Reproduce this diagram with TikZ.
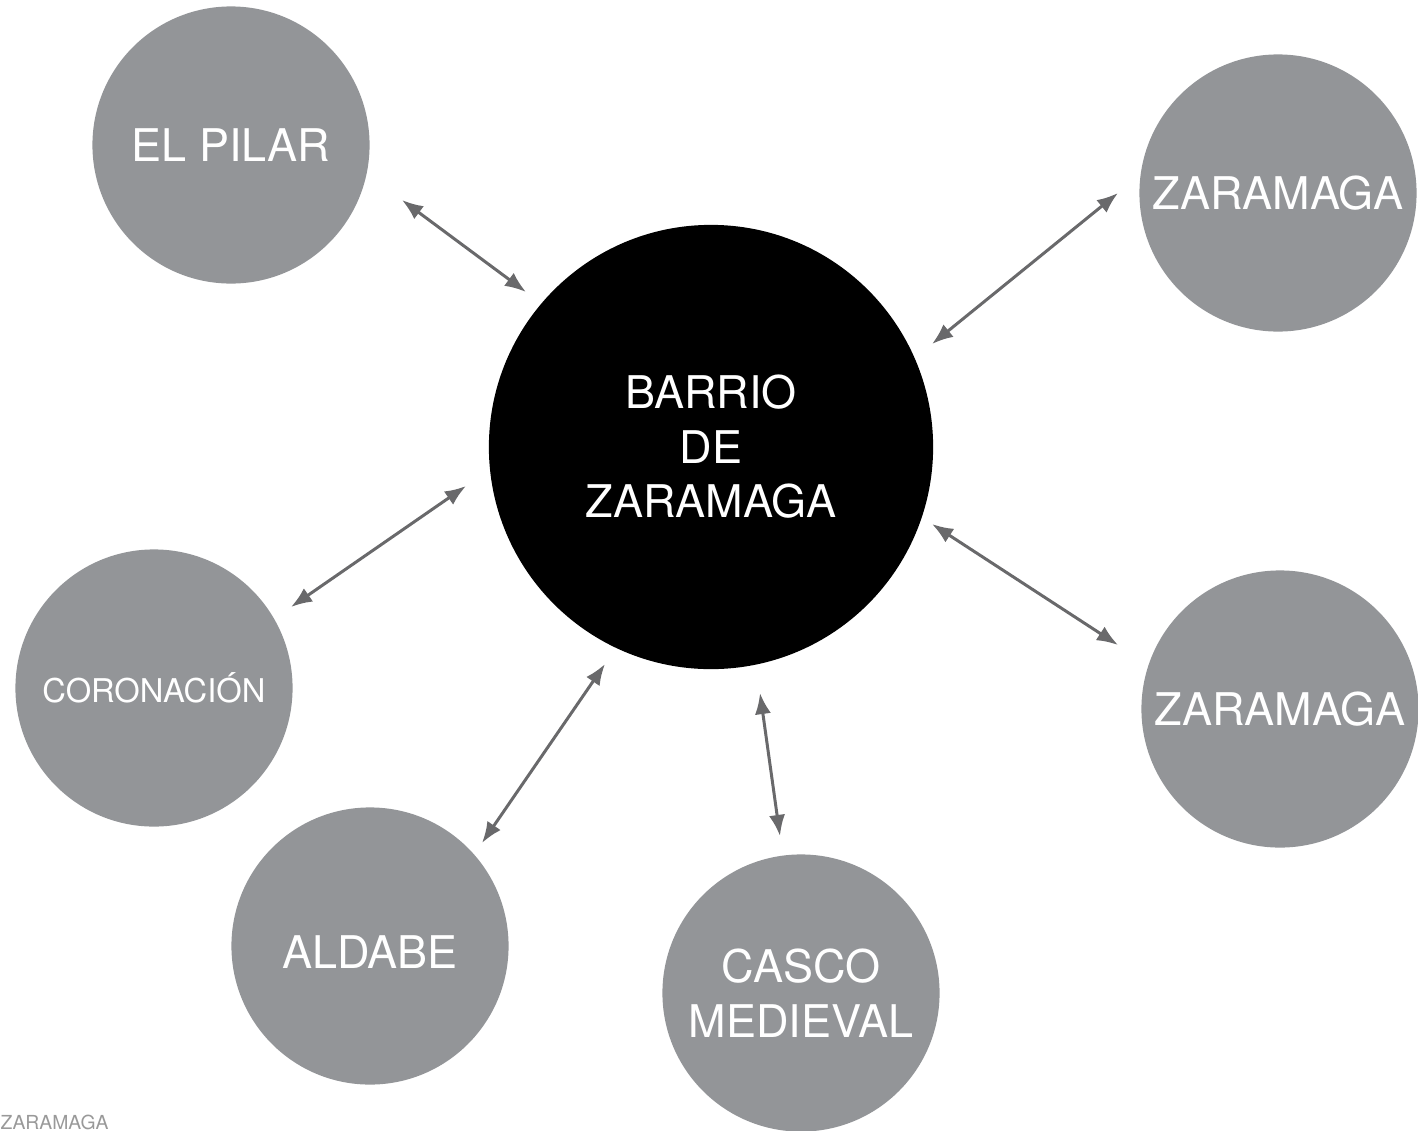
\documentclass[tikz,border=0pt]{standalone}
\usepackage{fontspec}
\setmainfont{TeX Gyre Heros}
\usepackage{xcolor}
\usetikzlibrary{arrows.meta}

\definecolor{barrio}{RGB}{147,149,152}
\definecolor{flecha}{RGB}{105,105,107}

\begin{document}
\begin{tikzpicture}[x=0.01cm, y=-0.01cm,
        zona/.style={circle, fill=barrio, minimum size=2.77cm, inner sep=0pt,
            text=white, align=center, font=\fontsize{12.8}{15.5}\selectfont},
        centro/.style={zona, fill=black, minimum size=4.44cm},
        enlace/.style={draw=flecha, line width=0.85pt,
            {Latex[length=6pt,width=4.6pt]}-{Latex[length=6pt,width=4.6pt]}}]
        \useasboundingbox (0,0) rectangle (1418,1130);

        \node[centro] (zar)   at (711,447)  {BARRIO\\DE\\ZARAMAGA};
        \node[zona]   (pilar) at (231,145)  {EL PILAR};
        \node[zona]   (zar1)  at (1278,193) {ZARAMAGA};
        \node[zona, font=\fontsize{9.3}{11}\selectfont] (coro) at (154,688) {CORONACIÓN};
        \node[zona]   (zar2)  at (1280,709) {ZARAMAGA};
        \node[zona]   (alda)  at (370,946)  {\raisebox{-6.5pt}[0pt][0pt]{ALDABE}};
        \node[zona]   (casco) at (801,993)  {CASCO\\MEDIEVAL};

        % extremos de las flechas
        \coordinate (pilar-a) at (402,200);  \coordinate (pilar-b) at (526,292);
        \coordinate (zar1-a)  at (1118,193); \coordinate (zar1-b)  at (932,344);
        \coordinate (coro-a)  at (291,607);  \coordinate (coro-b)  at (466,486);
        \coordinate (zar2-a)  at (1118,645); \coordinate (zar2-b)  at (932,524);
        \coordinate (alda-a)  at (482,843);  \coordinate (alda-b)  at (605,664);
        \coordinate (casco-a) at (780,836);  \coordinate (casco-b) at (760,693);

        \draw[enlace] (pilar-a) -- (pilar-b);
        \draw[enlace] (zar1-a) -- (zar1-b);
        \draw[enlace] (coro-a) -- (coro-b);
        \draw[enlace] (zar2-a) -- (zar2-b);
        \draw[enlace] (alda-a) -- (alda-b);
        \draw[enlace] (casco-a) -- (casco-b);

        \node[anchor=base west, inner sep=0pt, text=black!40,
            font=\fontsize{5.5}{6}\selectfont] (firma) at (0,1129) {ZARAMAGA};

    \end{tikzpicture}
\end{document}
